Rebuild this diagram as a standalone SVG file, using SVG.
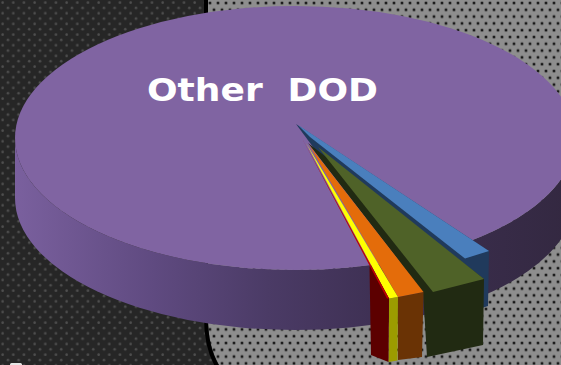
<svg xmlns="http://www.w3.org/2000/svg" width="561" height="365" viewBox="0 0 561 365">
  <defs>
    <pattern id="darkDots" patternUnits="userSpaceOnUse" width="10.67" height="10.67">
      <rect width="10.67" height="10.67" fill="#262626"/>
      <circle cx="2.6" cy="2.6" r="1.3" fill="#4e4e4e"/>
      <circle cx="7.93" cy="7.93" r="1.3" fill="#4e4e4e"/>
    </pattern>
    <pattern id="grayDots" patternUnits="userSpaceOnUse" width="8" height="13.6">
      <rect width="8" height="13.6" fill="#8e8e8e"/>
      <circle cx="2" cy="3" r="1.9" fill="#5e5e5e"/>
      <circle cx="6" cy="9.8" r="1.9" fill="#5e5e5e"/>
      <circle cx="2" cy="3" r="1.1" fill="#0a0a0a"/>
      <circle cx="6" cy="9.8" r="1.1" fill="#0a0a0a"/>
    </pattern>
    <linearGradient id="sideGrad" gradientUnits="userSpaceOnUse" x1="15" y1="0" x2="575" y2="0">
      <stop offset="0" stop-color="#7a609e"/>
      <stop offset="0.25" stop-color="#5f4a80"/>
      <stop offset="0.45" stop-color="#4b3b66"/>
      <stop offset="0.65" stop-color="#3e3053"/>
      <stop offset="1" stop-color="#332840"/>
    </linearGradient>
    <style>
      .label { font-family: "DejaVu Sans", Verdana, sans-serif; font-weight: bold; font-size: 32px; fill: #ffffff; word-spacing: 11px; }
    </style>
  </defs>

  <g id="background">
    <rect x="0" y="0" width="561" height="365" fill="url(#darkDots)"/>
    <path d="M208,0 H561 V365 H219 C212,352 208,338 208,318 Z" fill="url(#grayDots)"/>
    <path d="M206,0 V318 C206,340 210,354 217,366" fill="none" stroke="#000000" stroke-width="4"/>
    <rect x="10" y="363" width="12" height="4" rx="1.5" fill="#e6e6e6"/>
  </g>

  <g id="slice-other-dod">
    <path d="M15,138 A280,132 0 0 0 575,138 L575,198 A280,132 0 0 1 15,198 Z" fill="url(#sideGrad)"/>
    <ellipse cx="295" cy="138" rx="280" ry="132" fill="#8064a2"/>
  </g>

  <g id="slice-blue">
    <polygon points="296,124 489,251 488,306 470,312 330,170" fill="#203a5c"/>
    <polygon points="298,125 489,251 465,258.5 310,137" fill="#4a7fbd"/>
  </g>

  <g id="slice-green">
    <polygon points="308,143 484,279 483,345 427,357 423,292" fill="#212a12"/>
    <polygon points="318,147 484,279 433,292" fill="#4f6228"/>
  </g>

  <g id="slice-orange">
    <polygon points="398,297 423.5,292 422,357 398,360" fill="#6a3305"/>
    <polygon points="309,145 423.5,292 398,297" fill="#e46c0a"/>
  </g>

  <g id="slice-yellow">
    <polygon points="389,298.5 398,297 397.5,360.5 388.5,362" fill="#9c9c00"/>
    <polygon points="306,143 398,297 389,298.5" fill="#ffff00"/>
  </g>

  <g id="slice-red">
    <polygon points="370.5,265 389,298.5 388.5,362 371,355 369.5,267" fill="#5c0000"/>
    <polygon points="303,140 389,298.5 387,298.5" fill="#c00000"/>
  </g>

  <g id="labels">
    <text class="label" x="147" y="101" textLength="231" lengthAdjust="spacingAndGlyphs">Other DOD</text>
  </g>
</svg>
